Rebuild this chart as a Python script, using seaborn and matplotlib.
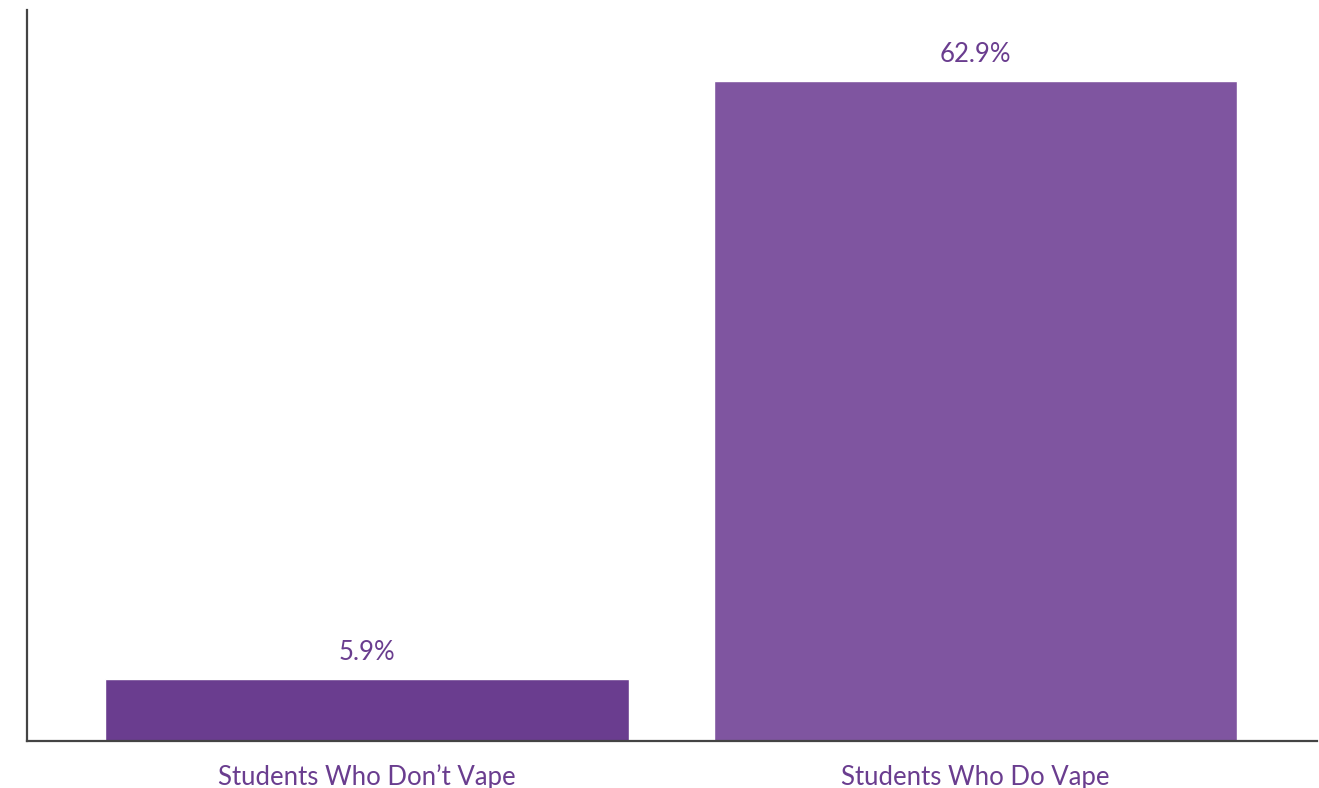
import matplotlib
matplotlib.use("Agg")
import matplotlib.pyplot as plt
import seaborn as sns

categories = ["Students Who Don\u2019t Vape", "Students Who Do Vape"]
values = [5.9, 62.9]
labels = ["5.9%", "62.9%"]
colors = ["#6a3d8f", "#7f55a0"]

sns.set_style("white")
plt.rcParams["font.family"] = ["Lato", "DejaVu Sans"]

fig = plt.figure(figsize=(13.19, 7.88), dpi=100)
ax = fig.add_axes([27 / 1319, 1 - 741 / 788, 1290 / 1319, 731 / 788])

sns.barplot(x=categories, y=values, hue=categories, palette=colors,
            width=0.86, saturation=1, legend=False, ax=ax)

for i, (v, lab) in enumerate(zip(values, labels)):
    ax.annotate(lab, (i, v), xytext=(0, 10.5), textcoords="offset points",
                ha="center", va="bottom", fontsize=18.5, color="#6a3d8f")

ax.set_xlim(-0.559, 1.561)
ax.set_ylim(0, 69.7)
ax.set_yticks([])
ax.tick_params(axis="x", length=0, pad=17, labelsize=18.5, labelcolor="#6a3d8f")
sns.despine(ax=ax)
for s in ["left", "bottom"]:
    ax.spines[s].set_color("#444444")
    ax.spines[s].set_linewidth(1.6)

fig.savefig("out.png", dpi=100)
